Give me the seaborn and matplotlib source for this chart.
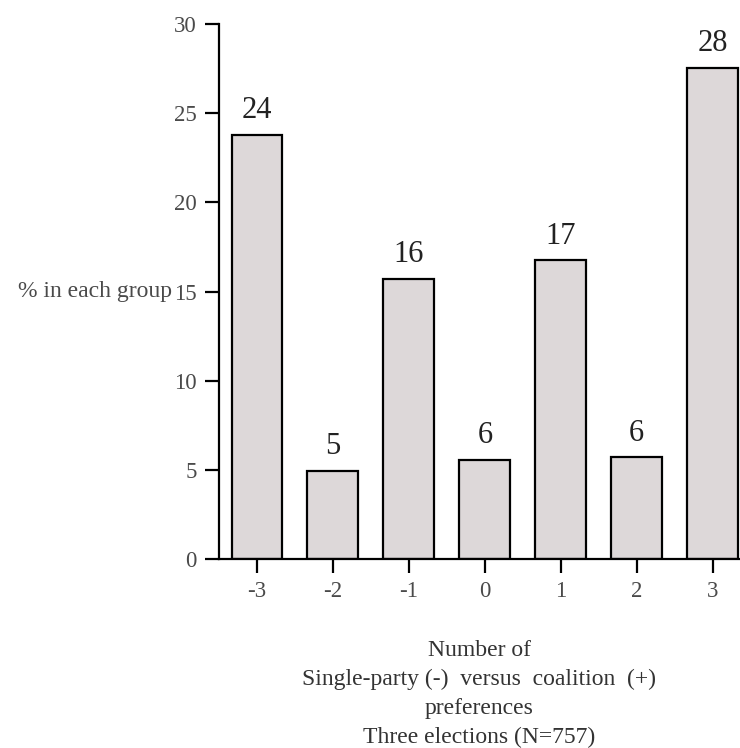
import matplotlib
matplotlib.use("Agg")
import matplotlib.pyplot as plt
import seaborn as sns
import pandas as pd

# Data
categories = ["-3", "-2", "-1", "0", "1", "2", "3"]
percentages = [23.8, 4.95, 15.7, 5.55, 16.75, 5.7, 27.55]
bar_labels = ["24", "5", "16", "6", "17", "6", "28"]

y_ticks = [0, 5, 10, 15, 20, 25, 30]

sns.set_theme(style="ticks")
plt.rcParams['font.family'] = ['Liberation Serif', 'DejaVu Serif']

df = pd.DataFrame({"pref": categories, "pct": percentages})

fig = plt.figure(figsize=(7.4, 7.48), dpi=100)
ax = fig.add_axes([219 / 740, 1 - 559 / 748, 521 / 740, 535 / 748])

sns.barplot(data=df, x="pref", y="pct", order=categories, ax=ax,
            color="#ddd8d9", saturation=1, width=0.67,
            edgecolor="black", linewidth=1.6)

# Value labels above bars
for i, (v, lab) in enumerate(zip(percentages, bar_labels)):
    ax.annotate(lab, (i, v), xytext=(0, 12), textcoords="offset points",
                ha="center", va="baseline", fontsize=22, color="#222222")

ax.set_xlim(-0.5, 6.36)
ax.set_ylim(0, 30)
ax.set_yticks(y_ticks)
ax.set_yticklabels([str(t) for t in y_ticks])

sns.despine(ax=ax, top=True, right=True)
for side in ["left", "bottom"]:
    ax.spines[side].set_linewidth(1.6)
    ax.spines[side].set_color("black")

ax.tick_params(axis="both", length=10, width=1.6, color="black",
               labelsize=16.5, labelcolor="#4a4a4a", pad=6)

ax.set_ylabel("% in each group", rotation=0, ha="right", va="center",
              fontsize=17, color="#4a4a4a")
ax.yaxis.set_label_coords((172 - 219) / 521, 0.5)

ax.set_xlabel("Number of\nSingle-party (-)  versus  coalition  (+)\npreferences\nThree elections (N=757)",
              fontsize=17, color="#333333", linespacing=1.5, labelpad=27)

fig.savefig("out.png", dpi=100)
plt.close(fig)
